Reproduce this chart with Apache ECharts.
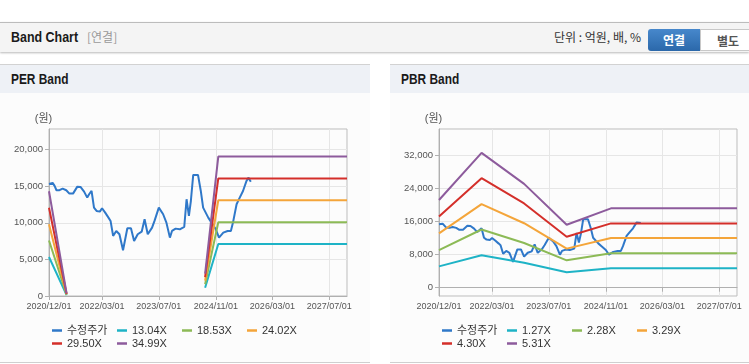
<!DOCTYPE html>
<html>
<head>
<meta charset="utf-8">
<script src="https://cdn.jsdelivr.net/npm/echarts@6/dist/echarts.min.js"></script>
<style>
body{margin:0;width:749px;height:364px;overflow:hidden;background:#fff;position:relative;font-family:"Noto Sans CJK KR","Liberation Sans",sans-serif}
.hd{position:absolute;left:0;top:22px;width:749px;height:29px;background:#f4f4f4;border-top:1px solid #bcbcbc;box-shadow:0 1px 2px rgba(0,0,0,.28)}
.hd .tt{position:absolute;left:11px;top:5px;font-weight:bold;font-size:15px;font-family:"Liberation Sans",sans-serif;color:#1a1a1a;transform:scaleX(.83);transform-origin:0 50%;white-space:nowrap}
.hd .sub{position:absolute;left:87px;top:5px;font-size:12px;color:#999}
.hd .unit{position:absolute;right:108px;top:5px;font-size:12px;color:#333}
.hd .btn{position:absolute;top:6px;height:22px;line-height:22px;width:52px;text-align:center;font-size:12px;font-weight:bold;box-sizing:border-box}
.hd .on{left:648px;background:linear-gradient(#4788cc,#2b68aa);color:#fff;border-radius:3px 0 0 3px}
.hd .off{left:700px;width:56px;background:#fff;color:#555;border:1px solid #c8c8c8}
.pn{position:absolute;top:64px;width:370px;height:297px;background:#fcfcfc;border-top:1px solid #d2d2d2;border-bottom:1px solid #cfcfcf}
.pn .bar{height:28px;background:#eef1f6;position:relative}
.pn .bar span{position:absolute;left:11px;top:6px;font-weight:bold;font-size:14px;font-family:"Liberation Sans",sans-serif;color:#1a1a1a;transform:scaleX(.85);transform-origin:0 50%;white-space:nowrap}
.pn .ch{position:absolute;left:0;top:29px;width:370px;height:268px}
</style>
</head>
<body>
<div class="hd">
	<span class="tt">Band Chart</span><span class="sub">[연결]</span>
	<span class="unit">단위 : 억원, 배, %</span>
	<span class="btn on">연결</span><span class="btn off">별도</span>
</div>
<div class="pn" style="left:0"><div class="bar"><span>PER Band</span></div><div class="ch" id="per_chart"></div></div>
<div class="pn" style="left:390px"><div class="bar"><span>PBR Band</span></div><div class="ch" id="pbr_chart"></div></div>
<script>
//x축 라벨 날짜
var xTicks = ['2020-12-01','2022-03-01','2023-07-01','2024-11-01','2026-03-01','2027-07-01'];
var xStart = '2020-12-01', xEnd = '2027-12-01';

//수정주가
var priceDates = ['2020-12-01','2020-12-15','2021-01-01','2021-01-18','2021-02-03','2021-03-01','2021-03-28','2021-04-28','2021-05-25','2021-06-25',
	'2021-08-01','2021-08-28','2021-09-28','2021-10-25','2021-11-10','2021-12-01','2021-12-22','2022-01-13','2022-02-10','2022-03-01',
	'2022-03-28','2022-04-25','2022-05-13','2022-06-04','2022-07-01','2022-07-28','2022-08-28','2022-10-04','2022-11-04','2022-12-01',
	'2023-01-01','2023-02-04','2023-03-01','2023-03-28','2023-05-04','2023-05-25','2023-07-01','2023-08-07','2023-09-04','2023-10-04',
	'2023-10-22','2023-11-22','2023-12-28','2024-02-04','2024-02-24','2024-03-15','2024-04-01','2024-04-21','2024-06-01','2024-06-25',
	'2024-07-15','2024-08-28','2024-09-25','2024-11-01','2024-11-28','2025-01-04','2025-02-10','2025-03-10','2025-03-28','2025-04-28',
	'2025-05-25','2025-06-22','2025-07-22','2025-08-07','2025-08-28'];
var priceValues = [15300,15480,15450,15030,14440,14440,14660,14440,13980,13980,
	14930,14890,14250,13430,13890,14340,12060,11610,11520,11980,
	11380,10700,10250,8200,8880,8430,6240,9250,9250,7510,
	8430,8780,10480,8430,9330,10250,12060,11160,10020,7970,
	8880,9200,9110,9430,13210,10930,13000,16530,16530,14340,
	12060,10700,10020,9110,7970,8650,8880,8880,10020,12520,
	13430,14340,15710,16160,15610];

//PER 밴드 (null = 구간 없음)
var perNames = ['13.04X','18.53X','24.02X','29.50X','34.99X'];
var perDates = ['2020-12-01','2021-05-01','2022-12-01','2024-08-01','2024-11-22','2027-12-01'];
var per1304 = [5330, 130, null, 1130, 7090, 7090];
var per1853 = [7570, 185, null, 1610, 10080, 10080];
var per2402 = [9810, 240, null, 2090, 13070, 13070];
var per2950 = [12050, 295, null, 2570, 16050, 16050];
var per3499 = [14300, 350, null, 3040, 19040, 19040];
var perYTicks = [0, 5000, 10000, 15000, 20000];

//PBR 밴드
var pbrNames = ['1.27X','2.28X','3.29X','4.30X','5.31X'];
var pbrDates = ['2020-12-01','2021-12-01','2022-12-01','2023-12-01','2024-12-15','2027-12-01'];
var pbr127 = [5150, 7850, 6010, 3720, 4700, 4700];
var pbr228 = [9070, 14050, 10780, 6600, 8300, 8300];
var pbr329 = [13100, 20180, 15560, 9430, 12000, 12000];
var pbr430 = [17160, 26420, 20340, 12300, 15520, 15520];
var pbr531 = [21160, 32540, 25060, 15200, 19150, 19150];
var pbrYTicks = [0, 8000, 16000, 24000, 32000];

var priceName = '수정주가';
var priceColor = '#2f78c9';
var bandColors = ['#1eb3c6','#8cba56','#f4a53a','#d42f2a','#8d5b9c'];
var labelFont = 'Liberation Sans';

function each(arr, fn){ var out=[]; for(var i=0;i<arr.length;i++){ out.push(fn(arr[i],i)); } return out; }
function ts(s){
	var p = s.split('-');
	return new Date(+p[0], +p[1]-1, +p[2]).getTime();
}
function fmtDate(v){
	var d = new Date(v), m = d.getMonth()+1, dd = d.getDate();
	return d.getFullYear()+'/'+(m<10?'0':'')+m+'/'+(dd<10?'0':'')+dd;
}
function pairs(dates, vals){
	return each(dates, function(d,i){ return [ts(d), vals[i]==null ? '-' : vals[i]]; });
}

function buildOption(yMin, yMax, yTicks, bandNames, bandDates, bandVals){
	var names = [priceName].concat(bandNames);
	var series = [{
		name: priceName,
		type: 'line',
		data: pairs(priceDates, priceValues),
		symbol: 'none',
		color: priceColor,
		lineStyle: {width: 2}
	}];
	each(bandNames, function(n,i){
		series.push({
			name: n,
			type: 'line',
			data: pairs(bandDates, bandVals[i]),
			symbol: 'none',
			connectNulls: false,
			color: bandColors[i],
			lineStyle: {width: 2}
		});
	});
	//범례 - 고정 칸 배치
	var cols = [52, 117, 182, 247];
	var legends = each(names, function(n,i){
		return {
			data: [n],
			left: cols[i % 4],
			top: i < 4 ? 231 : 244,
			padding: 0,
			icon: 'rect',
			itemWidth: 10,
			itemHeight: 2.5,
			selectedMode: false,
			textStyle: {fontSize: 11, color: '#333', fontFamily: '"Liberation Sans","Noto Sans CJK KR"'}
		};
	});
	return {
		animation: false,
		grid: {left: 49, top: 35, width: 298, height: 167, show: true, borderColor: '#bdbdbd', borderWidth: 1, backgroundColor: 'transparent'},
		legend: legends,
		xAxis: {
			type: 'value',
			min: ts(xStart),
			max: ts(xEnd),
			axisLine: {lineStyle: {color: '#b0b0b0'}},
			axisTick: {show: true, length: 4, customValues: each(xTicks, ts), lineStyle: {color: '#b0b0b0'}},
			axisLabel: {customValues: each(xTicks, ts), formatter: fmtDate, fontSize: 9, color: '#555', fontFamily: labelFont, margin: 6, hideOverlap: false},
			splitLine: {show: true, lineStyle: {color: '#e6e6e6'}}
		},
		yAxis: {
			type: 'value',
			min: yMin,
			max: yMax,
			name: '(원)',
			nameLocation: 'end',
			nameGap: 5,
			nameTextStyle: {color: '#555', fontSize: 11, fontFamily: '"Liberation Sans","Noto Sans CJK KR"', align: 'center', padding: [0, 11, 0, 0]},
			axisLine: {show: true, lineStyle: {color: '#b0b0b0'}},
			axisTick: {show: true, length: 4, customValues: yTicks, lineStyle: {color: '#b0b0b0'}},
			axisLabel: {customValues: yTicks, fontSize: 9.5, color: '#555', fontFamily: labelFont, margin: 6,
				formatter: function(v){ return v.toLocaleString('en-US'); }},
			splitLine: {show: true, lineStyle: {color: '#e6e6e6'}}
		},
		series: series
	};
}

var perChart = echarts.init(document.getElementById('per_chart'));
perChart.setOption(buildOption(0, 22800, perYTicks, perNames, perDates, [per1304, per1853, per2402, per2950, per3499]));

var pbrChart = echarts.init(document.getElementById('pbr_chart'));
pbrChart.setOption(buildOption(-2000, 38300, pbrYTicks, pbrNames, pbrDates, [pbr127, pbr228, pbr329, pbr430, pbr531]));
</script>
</body>
</html>
